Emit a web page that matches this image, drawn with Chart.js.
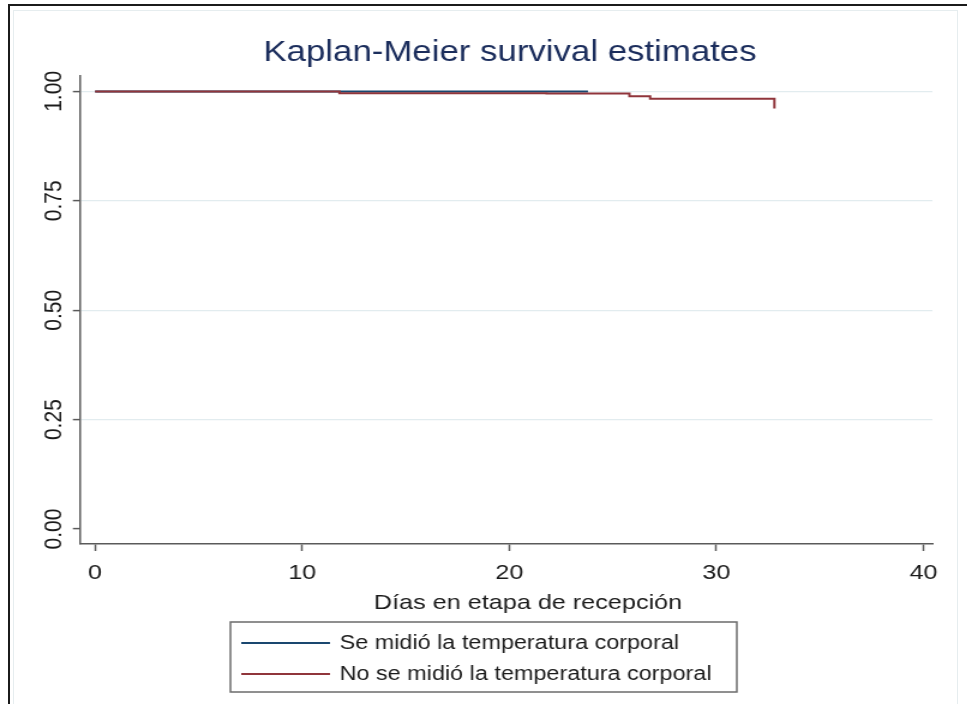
<!DOCTYPE html>
<html lang="es">
<head>
<meta charset="utf-8">
<title>Kaplan-Meier survival estimates</title>
<script src="https://cdn.jsdelivr.net/npm/chart.js"></script>
<style>
	body{ margin:0; background:#fff; width:967px; height:704px; overflow:hidden; position:relative;}
	/* the reference is a stretched screenshot, so the canvas is drawn narrow and widened */
	#wrap{ position:absolute; left:0; top:0; width:806px; height:704px; transform:scaleX(1.2); transform-origin:0 0;}
	.frame_top{ position:absolute; left:8px; top:4px; width:959px; height:2px; background:#1b1b1b;}
	.frame_left{ position:absolute; left:8px; top:4px; width:2px; height:700px; background:#1b1b1b;}
	.inner_box{ position:absolute; left:13px; top:10px; width:943px; height:700px; border:1px solid #e6edef;}
</style>
</head>
<body>
	<div class="inner_box"></div>
	<div id="wrap">
		<canvas id="myChart" width="806" height="704"></canvas>
	</div>
	<div class="frame_top"></div>
	<div class="frame_left"></div>
<script>

// 라벨
const seriesLabels = ['Se midió la temperatura corporal', 'No se midió la temperatura corporal'];
const seriesColors = ['#1a476f', '#90353b'];
const xTitle = 'Días en etapa de recepción';

// 데이터 (días, supervivencia)
const blueDays = [0, 23.8];
const blueSurv = [1.0, 1.0];
const redDays = [0, 11.8, 21.8, 25.8, 26.8, 32.8];
const redSurv = [1.0, 0.996, 0.995, 0.989, 0.983, 0.961];

// ejes
const xTicks = [0, 10, 20, 30, 40];
const yTicks = [0, 0.25, 0.5, 0.75, 1];

const FONT = "'Liberation Sans', Arial, sans-serif";

function toPoints(days, surv){
	let pts = [];
	for(let i = 0; i < days.length; i++){
		pts.push({x: days[i], y: surv[i]});
	}
	return pts;
}

// título del eje x y leyenda con caja, como en Stata
const kmLegend = {
	id: 'kmLegend',
	afterLayout(chart){
		// Stata centra el título un poco a la derecha
		const t = chart.titleBlock;
		const shift = 425 - (t.left + t.right) / 2;
		t.left += 2 * shift;
	},
	afterDraw(chart){
		const ctx = chart.ctx;
		ctx.save();
		ctx.font = "21px " + FONT;
		ctx.fillStyle = '#1b1b1b';
		ctx.textAlign = 'center';
		ctx.textBaseline = 'middle';
		ctx.fillText(xTitle, 440, 603);

		const boxW = 422, boxH = 70;
		const left = chart.width / 2 - boxW / 2;
		const top = 622;
		ctx.strokeStyle = '#6b6b6b';
		ctx.lineWidth = 1.5;
		ctx.strokeRect(left, top, boxW, boxH);
		ctx.font = "19.5px " + FONT;
		ctx.textAlign = 'left';
		for(let i = 0; i < seriesLabels.length; i++){
			const y = top + 21 + i * 31;
			ctx.strokeStyle = seriesColors[i];
			ctx.lineWidth = 2;
			ctx.beginPath();
			ctx.moveTo(left + 9, y);
			ctx.lineTo(left + 83, y);
			ctx.stroke();
			ctx.fillText(seriesLabels[i], left + 91, y + 1);
		}
		ctx.restore();
	}
};

const chart_data = {
	datasets: [{
		label: seriesLabels[0],
		data: toPoints(blueDays, blueSurv),
		borderColor: seriesColors[0],
		borderWidth: 2,
		pointRadius: 0,
		stepped: 'before',
		order: 1
	}, {
		label: seriesLabels[1],
		data: toPoints(redDays, redSurv),
		borderColor: seriesColors[1],
		borderWidth: 2,
		pointRadius: 0,
		stepped: 'before',
		order: 0
	}]
};

const config = {
	type: 'line',
	data: chart_data,
	plugins: [kmLegend],
	options: {
		responsive: false,
		animation: false,
		layout: { padding: { top: 10, left: 0, right: 29, bottom: 88 } },
		plugins: {
			legend: { display: false },
			tooltip: { enabled: false },
			title: {
				display: true,
				text: 'Kaplan-Meier survival estimates',
				color: '#1b2d5c',
				font: { family: FONT, size: 29, weight: 'normal' },
				padding: { top: 26, bottom: 5 }
			}
		},
		scales: {
			x: {
				type: 'linear',
				min: -0.725,
				max: 40.43,
				afterBuildTicks: function(scale){ scale.ticks = xTicks.map(v => ({value: v})); },
				afterFit: function(scale){ scale.height = 72; scale.paddingLeft = 0; scale.paddingRight = 0; },
				ticks: { color: '#1b1b1b', font: { family: FONT, size: 21 }, padding: 10,
					callback: v => String(v) },
				grid: { drawOnChartArea: false, drawTicks: true, tickLength: 7, tickColor: '#5a5a5a', tickWidth: 1.5 },
				border: { display: true, color: '#5a5a5a', width: 1.5 },
				title: { display: false }
			},
			y: {
				type: 'linear',
				min: -0.0342,
				max: 1.0356,
				afterBuildTicks: function(scale){ scale.ticks = yTicks.map(v => ({value: v})); },
				afterFit: function(scale){ scale.width = 66.7; scale.paddingTop = 0; scale.paddingBottom = 0; },
				ticks: { color: '#1b1b1b', font: { family: FONT, size: 21 }, padding: -5,
					minRotation: 90, maxRotation: 90, crossAlign: 'center',
					callback: v => Number(v).toFixed(2) },
				grid: {
					color: ctx => (ctx.tick && ctx.tick.value > 0) ? '#e2ecef' : 'rgba(0,0,0,0)',
					lineWidth: 1.2,
					tickLength: 6, tickColor: '#5a5a5a', tickWidth: 1.5
				},
				border: { display: true, color: '#5a5a5a', width: 1.5 }
			}
		}
	}
};

// 그리기
var myChart = new Chart(document.getElementById('myChart'), config);

</script>
</body>
</html>
